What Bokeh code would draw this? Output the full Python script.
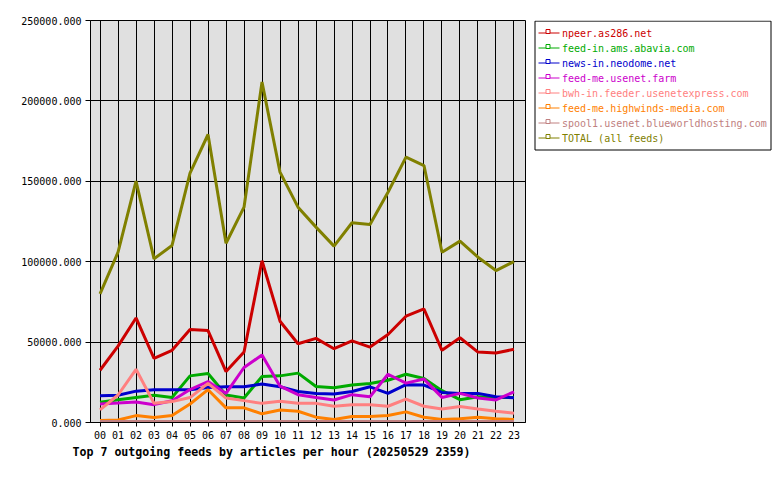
from bokeh.plotting import figure
from bokeh.models import Range1d, FixedTicker, PrintfTickFormatter, Title, ColumnDataSource
from bokeh.layouts import row
from bokeh.core.properties import value
from bokeh.embed import file_html
from bokeh.resources import INLINE

# ---- data ----
hours = list(range(24))
hour_labels = ["00", "01", "02", "03", "04", "05", "06", "07", "08", "09", "10", "11",
               "12", "13", "14", "15", "16", "17", "18", "19", "20", "21", "22", "23"]
y_ticks = [0, 50000, 100000, 150000, 200000, 250000]

npeer = [32500, 47500, 65000, 39900, 44900, 57800, 57200, 31700, 43800, 100600, 63000, 49000,
         52300, 45900, 50800, 46900, 54700, 66100, 70600, 44900, 52700, 43800, 43200, 45500]
abavia = [12600, 14200, 15600, 16900, 15600, 29000, 30500, 17100, 15200, 28600, 29000, 30700,
          22400, 21600, 23300, 24300, 26300, 30000, 27400, 19800, 14200, 16000, 15600, 15500]
neodome = [16700, 16900, 19500, 20400, 20400, 20400, 21800, 22200, 22200, 23900, 22200, 19300,
           18100, 17700, 19300, 22200, 18100, 23500, 23300, 18700, 18100, 18100, 16000, 15400]
usenetfarm = [11500, 12100, 12800, 11100, 13500, 20500, 25500, 18100, 34200, 42000, 22600, 17300,
              15600, 14000, 17300, 16000, 30000, 24500, 27000, 15600, 18100, 15200, 14000, 19100]
usenetexpress = [7800, 17100, 33100, 11900, 13000, 15500, 24300, 15200, 13600, 11900, 13200, 11900,
                 11900, 10100, 11100, 11100, 10100, 14600, 10100, 8400, 9900, 8400, 7000, 5800]
highwinds = [1200, 1600, 4300, 3100, 4300, 11500, 20400, 9100, 9100, 5400, 7800, 7000,
             3300, 1900, 3700, 3700, 4300, 6600, 3300, 1900, 2300, 3300, 2300, 1900]
blueworld = [600, 600, 600, 600, 600, 600, 600, 600, 600, 600, 600, 600,
             600, 600, 600, 600, 600, 600, 600, 600, 600, 600, 600, 600]
total = [80000, 105900, 150100, 101800, 110100, 155100, 179100, 111500, 133900, 211700, 155700, 133900,
         121500, 109700, 124200, 123100, 143200, 165000, 159800, 105900, 112800, 102800, 94500, 100100]

series_names = ["npeer.as286.net", "feed-in.ams.abavia.com", "news-in.neodome.net",
                "feed-me.usenet.farm", "bwh-in.feeder.usenetexpress.com",
                "feed-me.highwinds-media.com", "spool1.usenet.blueworldhosting.com",
                "TOTAL (all feeds)"]
series_values = [npeer, abavia, neodome, usenetfarm, usenetexpress, highwinds, blueworld, total]
series_colors = ["#CC0000", "#00AA00", "#0000CC", "#CC00CC", "#FF8080", "#FF8000", "#C08080", "#808000"]

title_text = "Top 7 outgoing feeds by articles per hour (20250529 2359)"

MONO = "DejaVu Sans Mono"

# ---- main chart ----
p = figure(width=530, height=480, x_range=Range1d(-0.53, 23.64), y_range=Range1d(0, 250000),
           output_backend="svg", toolbar_location=None, title=None,
           min_border_left=90, min_border_right=5, min_border_top=20, min_border_bottom=58,
           background_fill_color="#E0E0E0", border_fill_color="white")
p.outline_line_color = "black"
p.outline_line_width = 1

for vals, col in zip(series_values, series_colors):
    src = ColumnDataSource(dict(x=hours, y=vals))
    p.line("x", "y", source=src, line_color=col, line_width=3)

p.xaxis.ticker = FixedTicker(ticks=hours)
p.xaxis.major_label_overrides = {h: lab for h, lab in zip(hours, hour_labels)}
p.yaxis.ticker = FixedTicker(ticks=y_ticks)
p.yaxis.formatter = PrintfTickFormatter(format="%.3f")

for ax in (p.xaxis, p.yaxis):
    ax.axis_line_color = "black"
    ax.major_tick_line_color = "black"
    ax.major_tick_in = 0
    ax.minor_tick_line_color = None
    ax.major_label_text_font = MONO
    ax.major_label_text_font_size = "10px"
    ax.major_label_text_color = "black"
p.xaxis.major_tick_out = 4
p.xaxis.major_label_standoff = 4
p.yaxis.major_tick_out = 5
p.yaxis.major_label_standoff = 4

p.xgrid.grid_line_color = "black"
p.ygrid.grid_line_color = "black"
p.xgrid.grid_line_width = 1
p.ygrid.grid_line_width = 1

p.add_layout(Title(text=title_text, align="left", offset=-18, text_font=MONO,
                   text_font_size="11.6px", text_font_style="bold", text_color="black",
                   standoff=2), "below")

# ---- legend panel (its frame is aligned with the chart frame: page y 20..422) ----
L = figure(width=250, height=480, x_range=Range1d(0, 250), y_range=Range1d(422, 20),
           output_backend="svg", toolbar_location=None, min_border=0, title=None,
           x_axis_type=None, y_axis_type=None, border_fill_color="white",
           background_fill_color="white")
L.outline_line_color = None

L.quad(left=[4.5], right=[240.5], top=[20.6], bottom=[149.5],
       fill_color="white", line_color="black", line_width=1)
row_y = [32.5 + 15 * i for i in range(len(series_names))]
L.segment(x0=8, y0=row_y, x1=29, y1=row_y, line_color=series_colors, line_width=1)
L.scatter(x=17.5, y=[y - 1.5 for y in row_y], marker="square", size=4,
          fill_color="white", line_color=series_colors, line_width=1)
L.text(x=31.5, y=row_y, text=series_names, text_color=series_colors,
       text_font=value(MONO), text_font_size="10px", text_baseline="middle")

layout = row(p, L)
open("out.html", "w").write(file_html(layout, INLINE))
